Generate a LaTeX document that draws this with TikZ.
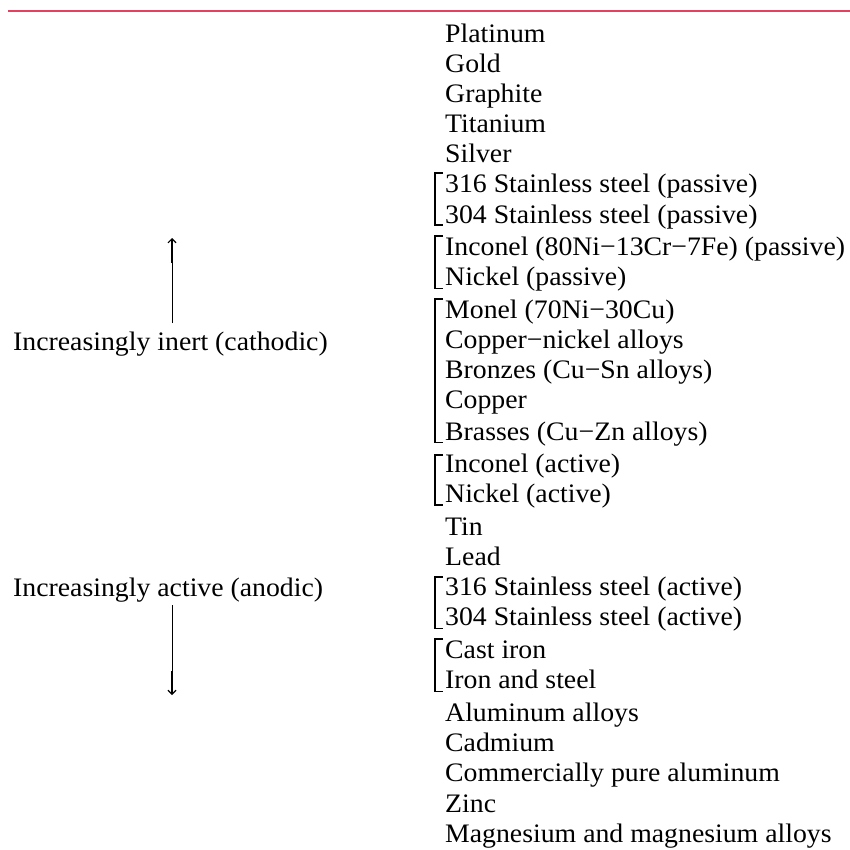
\documentclass[tikz,border=0pt]{standalone}
\usepackage{fontspec}
\setmainfont{Liberation Serif}[FakeStretch=1.04]
\usetikzlibrary{arrows.meta}
\definecolor{rulered}{RGB}{228,64,96}
\begin{document}
\begin{tikzpicture}[x=1pt,y=-1pt,
  item/.style={anchor=base west, inner sep=0pt, font=\fontsize{26.7}{30}\selectfont},
  brk/.style={line width=1.1pt},
  shaft/.style={line width=1pt},
  tipseg/.style={line width=2.1pt, -{Straight Barb[length=4pt,width=8pt,line width=1.1pt]}}]
\useasboundingbox (0,0) rectangle (850,850);
\coordinate (rl) at (8,11);
\coordinate (rr) at (850,11);
\draw[rulered, line width=2pt] (rl) -- (rr);

% list of metals
\node[item] (n1)  at (445,42.5) {Platinum};
\node[item] (n2)  at (445,73)   {Gold};
\node[item] (n3)  at (445,102.5){Graphite};
\node[item] (n4)  at (445,133)  {Titanium};
\node[item] (n5)  at (445,163)  {Silver};
\node[item] (n6)  at (445,193)  {316 Stainless steel (passive)};
\node[item] (n7)  at (445,223)  {304 Stainless steel (passive)};
\node[item] (n8)  at (445,255)  {Inconel (80Ni−13Cr−7Fe) (passive)};
\node[item] (n9)  at (445,285)  {Nickel (passive)};
\node[item] (n10) at (445,318)  {Monel (70Ni−30Cu)};
\node[item] (n11) at (445,348)  {Copper−nickel alloys};
\node[item] (n12) at (445,378)  {Bronzes (Cu−Sn alloys)};
\node[item] (n13) at (445,408)  {Copper};
\node[item] (n14) at (445,440)  {Brasses (Cu−Zn alloys)};
\node[item] (n15) at (445,472)  {Inconel (active)};
\node[item] (n16) at (445,502)  {Nickel (active)};
\node[item] (n17) at (445,535)  {Tin};
\node[item] (n18) at (445,565)  {Lead};
\node[item] (n19) at (445,595)  {316 Stainless steel (active)};
\node[item] (n20) at (445,625)  {304 Stainless steel (active)};
\node[item] (n21) at (445,658)  {Cast iron};
\node[item] (n22) at (445,688)  {Iron and steel};
\node[item] (n23) at (445,721)  {Aluminum alloys};
\node[item] (n24) at (445,751)  {Cadmium};
\node[item] (n25) at (445,781)  {Commercially pure aluminum};
\node[item] (n26) at (445,812)  {Zinc};
\node[item] (n27) at (445,842)  {Magnesium and magnesium alloys};

% brackets
\draw[brk] (443,173) -- (435,173) -- (435,225) -- (443,225);
\draw[brk] (443,236) -- (435,236) -- (435,288.5) -- (443,288.5);
\draw[brk] (443,299) -- (435,299) -- (435,442.5) -- (443,442.5);
\draw[brk] (443,455) -- (435,455) -- (435,505) -- (443,505);
\draw[brk] (443,577) -- (435,577) -- (435,628.5) -- (443,628.5);
\draw[brk] (443,639) -- (435,639) -- (435,691.5) -- (443,691.5);

% left labels
\node[item] (inert)  at (13,350) {Increasingly inert (cathodic)};
\node[item] (active) at (13,596) {Increasingly active (anodic)};

% arrows
\coordinate (upS) at (172,323);
\coordinate (upM) at (172,263);
\coordinate (upT) at (172,238);
\coordinate (dnS) at (172,605);
\coordinate (dnM) at (172,671);
\coordinate (dnT) at (172,695);
\draw[shaft] (upS) -- (upM);
\draw[tipseg] (upM) -- (upT);
\draw[shaft] (dnS) -- (dnM);
\draw[tipseg] (dnM) -- (dnT);
\end{tikzpicture}
\end{document}
